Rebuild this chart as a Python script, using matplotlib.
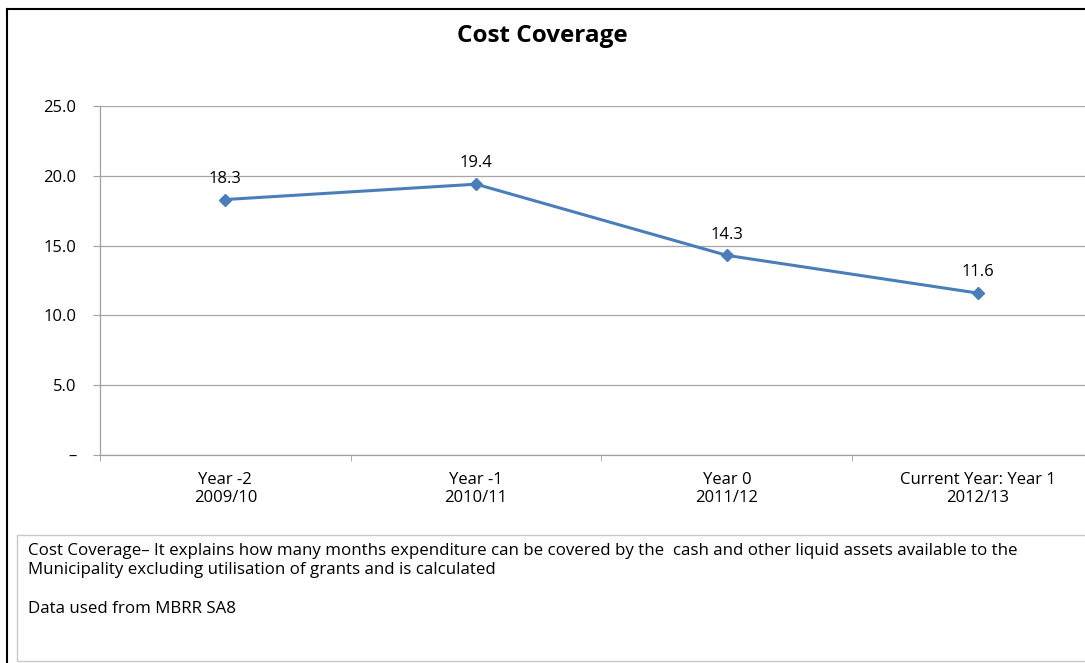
import matplotlib
matplotlib.use("Agg")
import matplotlib.pyplot as plt
from matplotlib.patches import Rectangle
from matplotlib.lines import Line2D

plt.rcParams['font.family'] = ['Open Sans', 'DejaVu Sans']

categories = ["Year -2\n2009/10", "Year -1\n2010/11", "Year 0\n2011/12",
              "Current Year: Year 1\n2012/13"]
values = [18.3, 19.4, 14.3, 11.6]
y_ticks = [0, 5, 10, 15, 20, 25]
y_labels = ["\u2013", "5.0", "10.0", "15.0", "20.0", "25.0"]
title = "Cost Coverage"
note = ("Cost Coverage\u2013 It explains how many months expenditure can be covered by the  "
        "cash and other liquid assets available to the\n"
        "Municipality excluding utilisation of grants and is calculated\n\n"
        "Data used from MBRR SA8")

W, H = 1085, 663
fig = plt.figure(figsize=(W / 100, H / 100), dpi=100)

def fx(px):
    return px / W

def fy(py):
    return 1 - py / H

# outer chart border
fig.add_artist(Line2D([fx(6.5), fx(6.5)], [fy(9), 0], color="black", lw=1.5,
                      transform=fig.transFigure))
fig.add_artist(Line2D([fx(6.5), 1], [fy(9), fy(9)], color="black", lw=1.5,
                      transform=fig.transFigure))

fig.text(0.5, fy(36), title, ha="center", va="center", fontsize=17.5, fontweight="bold")

left, right, top, bottom = 100, 1103, 106, 455
ax = fig.add_axes([fx(left), fy(bottom), fx(right - left), (bottom - top) / H])

x = list(range(len(values)))
ax.plot(x, values, color="#4A7EBB", lw=2.2, marker="D", markersize=6, zorder=3,
        clip_on=False)
for xi, v in zip(x, values):
    ax.annotate(f"{v:.1f}", (xi, v), xytext=(0, 15), textcoords="offset points",
                ha="center", va="center", fontsize=12)

ax.set_xlim(-0.5, len(values) - 0.5)
ax.set_ylim(0, 25)
ax.set_yticks(y_ticks)
ax.set_yticklabels(y_labels)
ax.set_xticks(x)
ax.set_xticklabels(categories, fontsize=12, linespacing=1.22)
ax.set_xticks([i - 0.5 for i in range(len(values) + 1)], minor=True)
ax.tick_params(axis="x", which="major", length=0, pad=12)
ax.tick_params(axis="x", which="minor", length=4, color="#a0a0a0", direction="out")
ax.tick_params(axis="y", length=5, color="#a0a0a0", labelsize=12, pad=12)
ax.grid(axis="y", color="#a6a6a6", lw=0.9)
ax.set_axisbelow(True)
for s in ["top", "right"]:
    ax.spines[s].set_visible(False)
for s in ["left", "bottom"]:
    ax.spines[s].set_color("#a0a0a0")
    ax.spines[s].set_linewidth(0.9)

# note box
fig.add_artist(Rectangle((fx(17), fy(661)), 1.0, (661 - 535) / H, fill=False,
                         edgecolor="#c8c8c8", lw=1, transform=fig.transFigure))
fig.text(fx(28), fy(543), note, ha="left", va="top", fontsize=12.2, linespacing=1.28)

fig.savefig("out.png", dpi=100)
